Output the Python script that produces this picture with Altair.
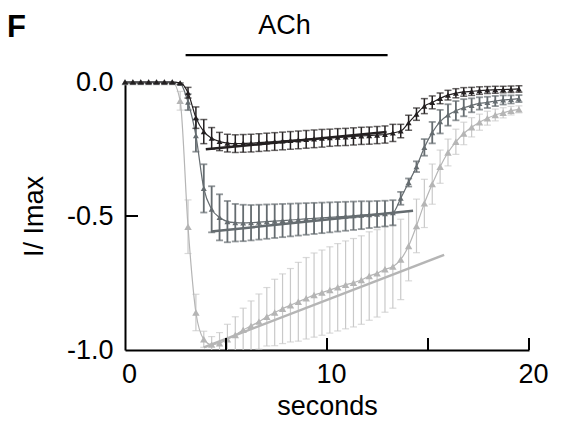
import altair as alt
import pandas as pd

# ---------------- data ----------------
time_s = [0.0, 0.39, 0.78, 1.17, 1.56, 1.95, 2.34, 2.73, 3.12, 3.51,
          3.9, 4.29, 4.68, 5.07, 5.46, 5.85, 6.24, 6.63, 7.02, 7.41,
          7.8, 8.19, 8.58, 8.97, 9.36, 9.75, 10.14, 10.53, 10.92, 11.31,
          11.7, 12.09, 12.48, 12.87, 13.26, 13.65, 14.04, 14.43, 14.82, 15.21,
          15.6, 15.99, 16.38, 16.77, 17.16, 17.55, 17.94, 18.33, 18.72, 19.11,
          19.5]

black_mean = [0.0, 0.0, 0.0, 0.0, 0.0, 0.0, 0.0, -0.003, -0.04, -0.133,
              -0.185, -0.21, -0.222, -0.228, -0.23, -0.229, -0.228, -0.226, -0.224, -0.222,
              -0.22, -0.218, -0.216, -0.214, -0.212, -0.21, -0.208, -0.206, -0.205, -0.203,
              -0.201, -0.2, -0.198, -0.196, -0.19, -0.183, -0.152, -0.12, -0.09, -0.076,
              -0.061, -0.049, -0.042, -0.037, -0.035, -0.032, -0.03, -0.029, -0.028, -0.027,
              -0.026]
black_err = [0.005, 0.005, 0.005, 0.005, 0.005, 0.005, 0.005, 0.005, 0.02, 0.04,
             0.045, 0.04, 0.034, 0.033, 0.033, 0.033, 0.033, 0.033, 0.033, 0.033,
             0.033, 0.033, 0.033, 0.033, 0.033, 0.033, 0.032, 0.032, 0.032, 0.032,
             0.032, 0.032, 0.032, 0.032, 0.032, 0.025, 0.028, 0.023, 0.028, 0.024,
             0.02, 0.018, 0.017, 0.016, 0.015, 0.014, 0.013, 0.013, 0.012, 0.012,
             0.012]

dgray_mean = [0.0, 0.0, 0.0, 0.0, 0.0, 0.0, 0.0, -0.005, -0.075, -0.2,
              -0.397, -0.475, -0.505, -0.521, -0.525, -0.526, -0.525, -0.523, -0.521, -0.519,
              -0.517, -0.515, -0.513, -0.511, -0.509, -0.507, -0.505, -0.503, -0.501, -0.499,
              -0.497, -0.495, -0.493, -0.491, -0.488, -0.434, -0.375, -0.316, -0.244, -0.189,
              -0.148, -0.123, -0.107, -0.096, -0.087, -0.08, -0.076, -0.071, -0.067, -0.065,
              -0.062]
dgray_err = [0.005, 0.005, 0.005, 0.005, 0.005, 0.005, 0.005, 0.005, 0.03, 0.06,
             0.09, 0.086, 0.086, 0.077, 0.07, 0.068, 0.066, 0.065, 0.064, 0.063,
             0.062, 0.061, 0.06, 0.059, 0.058, 0.057, 0.056, 0.055, 0.054, 0.053,
             0.052, 0.05, 0.049, 0.048, 0.047, 0.024, 0.015, 0.02, 0.031, 0.04,
             0.044, 0.04, 0.036, 0.032, 0.026, 0.023, 0.021, 0.019, 0.017, 0.015,
             0.013]

lgray_mean = [0.0, 0.0, 0.0, 0.0, 0.0, 0.0, 0.0, -0.07, -0.54, -0.86,
              -0.96, -0.98, -0.975, -0.96, -0.944, -0.925, -0.91, -0.894, -0.876, -0.86,
              -0.846, -0.833, -0.82, -0.807, -0.795, -0.786, -0.776, -0.766, -0.757, -0.749,
              -0.739, -0.724, -0.714, -0.699, -0.689, -0.662, -0.612, -0.537, -0.453, -0.381,
              -0.316, -0.263, -0.223, -0.192, -0.169, -0.15, -0.135, -0.123, -0.115, -0.107,
              -0.102]
lgray_err = [0.005, 0.005, 0.005, 0.005, 0.005, 0.005, 0.005, 0.035, 0.1, 0.068,
             0.03, 0.03, 0.04, 0.056, 0.068, 0.081, 0.093, 0.103, 0.109, 0.124,
             0.13, 0.137, 0.147, 0.152, 0.157, 0.159, 0.161, 0.163, 0.164, 0.165,
             0.165, 0.165, 0.163, 0.16, 0.155, 0.15, 0.13, 0.1, 0.09, 0.075,
             0.062, 0.05, 0.047, 0.042, 0.036, 0.03, 0.026, 0.022, 0.019, 0.016,
             0.013]

# linear fits over the ACh plateau: (t, value) at start and end
black_fit = [(4.0, -0.251), (12.95, -0.187)]
dgray_fit = [(4.26, -0.558), (14.26, -0.48)]
lgray_fit = [(3.9, -0.99), (15.8, -0.645)]

ach_start, ach_end, ach_level = 3.0, 13.0, 0.1
ach_label = "ACh"
ach_label_pos = (7.9, 0.21)

x_tick_values = [5, 10, 15, 20]
y_tick_values = [-0.5]

# ---------------- chart ----------------
W, H = 404, 268
FONT = "Liberation Sans"
FS = 27

xs = alt.Scale(domain=[0, 20], nice=False, zero=False)
ys = alt.Scale(domain=[-1.0, 0.0], nice=False, zero=False)

x_axis = alt.Axis(values=[0, 10, 20], title="seconds", ticks=False, tickSize=0,
                  grid=False, domainColor="black", domainWidth=2,
                  labelFont=FONT, labelFontSize=FS, labelColor="black",
                  labelPadding=11, labelOffset=4, labelFlush=False,
                  titleFont=FONT, titleFontSize=FS, titleFontWeight="normal",
                  titleColor="black", titlePadding=6)
y_axis = alt.Axis(values=[0.0, -0.5, -1.0], title="I/ Imax", ticks=False, tickSize=0,
                  grid=False, domainColor="black", domainWidth=2,
                  labelExpr="datum.value == 0 ? '0.0' : (datum.value == -0.5 ? '-0.5' : '-1.0')",
                  labelFont=FONT, labelFontSize=FS, labelColor="black",
                  labelPadding=12, labelFlush=False,
                  titleFont=FONT, titleFontSize=FS, titleFontWeight="normal",
                  titleColor="black", titlePadding=18)


def X(field):
    return alt.X(field, type="quantitative", scale=xs, axis=x_axis)


def Y(field):
    return alt.Y(field, type="quantitative", scale=ys, axis=y_axis)


def series_layers(mean, err, fit, color, barcolor, barw, ptsize):
    df = pd.DataFrame({
        "t": time_s,
        "m": mean,
        "lo": [m - e for m, e in zip(mean, err)],
        "hi": [m + e for m, e in zip(mean, err)],
    })
    base = alt.Chart(df)
    bars = base.mark_rule(color=barcolor, strokeWidth=barw, clip=True).encode(
        x=X("t"), y=Y("lo"), y2="hi")
    cap_lo = base.mark_tick(color=barcolor, orient="horizontal", size=7,
                            thickness=barw, clip=True).encode(x=X("t"), y=Y("lo"))
    cap_hi = base.mark_tick(color=barcolor, orient="horizontal", size=7,
                            thickness=barw, clip=True).encode(x=X("t"), y=Y("hi"))
    line = base.mark_line(color=color, strokeWidth=1.2, interpolate="monotone").encode(
        x=X("t"), y=Y("m"))
    pts = base.mark_point(shape="triangle-up", filled=True, size=ptsize, color=color,
                          opacity=1).encode(x=X("t"), y=Y("m"))
    fdf = pd.DataFrame({"t": [p[0] for p in fit], "m": [p[1] for p in fit]})
    fitl = alt.Chart(fdf).mark_line(color=color, strokeWidth=2.5).encode(
        x=X("t"), y=Y("m"))
    return [bars, cap_lo, cap_hi, line, pts, fitl]


layers = []
layers += series_layers(lgray_mean, lgray_err, lgray_fit, "#b5b5b5", "#c9c9c9", 1.2, 55)
layers += series_layers(dgray_mean, dgray_err, dgray_fit, "#656c70", "#656c70", 1.8, 35)
layers += series_layers(black_mean, black_err, black_fit, "#231f20", "#231f20", 1.5, 35)

ach_df = pd.DataFrame({"a": [ach_start], "b": [ach_end], "v": [ach_level]})
ach_bar = alt.Chart(ach_df).mark_rule(color="black", strokeWidth=2.2).encode(
    x=X("a"), x2="b", y=Y("v"))
lab_df = pd.DataFrame({"t": [ach_label_pos[0]], "m": [ach_label_pos[1]], "txt": [ach_label]})
ach_text = alt.Chart(lab_df).mark_text(font=FONT, fontSize=FS, color="black",
                                       baseline="middle", align="center").encode(
    x=X("t"), y=Y("m"), text="txt:N")

xt_df = pd.DataFrame({"t": x_tick_values})
x_ticks = alt.Chart(xt_df).mark_rule(color="black", strokeWidth=2).encode(
    x=X("t"), y=alt.value(H), y2=alt.value(H - 12))
yt_df = pd.DataFrame({"m": y_tick_values})
y_ticks = alt.Chart(yt_df).mark_rule(color="black", strokeWidth=2).encode(
    y=Y("m"), x=alt.value(0), x2=alt.value(13))

panel = alt.Chart(pd.DataFrame({"s": ["F"]})).mark_text(
    font=FONT, fontSize=31, fontWeight="bold", color="black",
    align="left", baseline="alphabetic").encode(
    x=alt.value(-118), y=alt.value(-45), text="s:N")

chart = alt.layer(*layers, ach_bar, ach_text, x_ticks, y_ticks, panel).properties(
    width=W, height=H,
    autosize=alt.AutoSizeParams(type="none"),
    padding={"left": 117, "top": 74, "right": 28, "bottom": 69},
).configure_view(stroke=None)

chart.save("out.html", embed_options={"renderer": "svg", "actions": False})
